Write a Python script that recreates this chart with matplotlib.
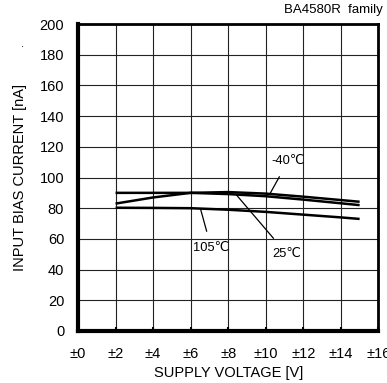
import numpy as np
import matplotlib
matplotlib.use('Agg')
from matplotlib import pyplot as plt

plt.rcParams['font.family'] = ['Liberation Sans', 'DejaVu Sans']

# supply voltage (+/- V) and input bias current (nA)
volts = [2, 4, 6, 8, 10, 12, 14, 15]
ib_m40 = [83, 87, 90, 90.5, 89.5, 87.5, 85.3, 84.2]
ib_25 = [90, 90, 90, 89.2, 87.8, 85.6, 83.2, 82]
ib_105 = [80.3, 80.2, 80, 79, 77.6, 75.8, 74, 73]

xticks = list(range(0, 17, 2))
xlabels = ['\u00b1%d' % v for v in xticks]
yticks = list(range(0, 201, 20))

fig = plt.figure(figsize=(3.87, 3.83), dpi=100)
ax = fig.add_axes([0.2016, 0.1358, 0.7762, 0.8015])

for ys in (ib_m40, ib_25, ib_105):
    ax.plot(volts, ys, color='black', lw=1.8, solid_capstyle='butt')

ax.set_xlim(0, 16)
ax.set_ylim(0, 200)
ax.set_xticks(xticks)
ax.set_xticklabels(xlabels)
ax.set_yticks(yticks)
ax.grid(True, color='#222222', lw=0.8)
ax.set_axisbelow(True)
ax.tick_params(axis='x', direction='in', length=3, width=1.5, pad=11.5, labelsize=10.5)
ax.tick_params(axis='y', length=0, pad=10, labelsize=10.5)

ax.spines['left'].set_linewidth(3)
ax.spines['bottom'].set_linewidth(3)
ax.spines['top'].set_linewidth(2)
ax.spines['right'].set_linewidth(2)

ax.set_xlabel('SUPPLY VOLTAGE [V]', fontsize=10.5, labelpad=3.5)
ax.set_ylabel('INPUT BIAS CURRENT [nA]', fontsize=10.5, labelpad=9)

# curve labels with leader lines
lbl = dict(fontsize=9.3, ha='center', va='center')
ax.annotate('-40\u2103', xy=(10.25, 90), xytext=(11.2, 111),
            arrowprops=dict(arrowstyle='-', lw=0.9, shrinkA=6, shrinkB=0), **lbl)
ax.annotate('105\u2103', xy=(6.53, 79.3), xytext=(7.1, 54),
            arrowprops=dict(arrowstyle='-', lw=0.9, shrinkA=6, shrinkB=0), **lbl)
ax.annotate('25\u2103', xy=(8.44, 88.6), xytext=(11.1, 50.5),
            arrowprops=dict(arrowstyle='-', lw=0.9, shrinkA=6, shrinkB=0), **lbl)

fig.text(0.99, 0.975, 'BA4580R  family', ha='right', va='center', fontsize=9.5)
fig.text(0.058, 0.885, '.', ha='center', va='center', fontsize=8)

fig.savefig('out.png', dpi=100)
plt.close(fig)
